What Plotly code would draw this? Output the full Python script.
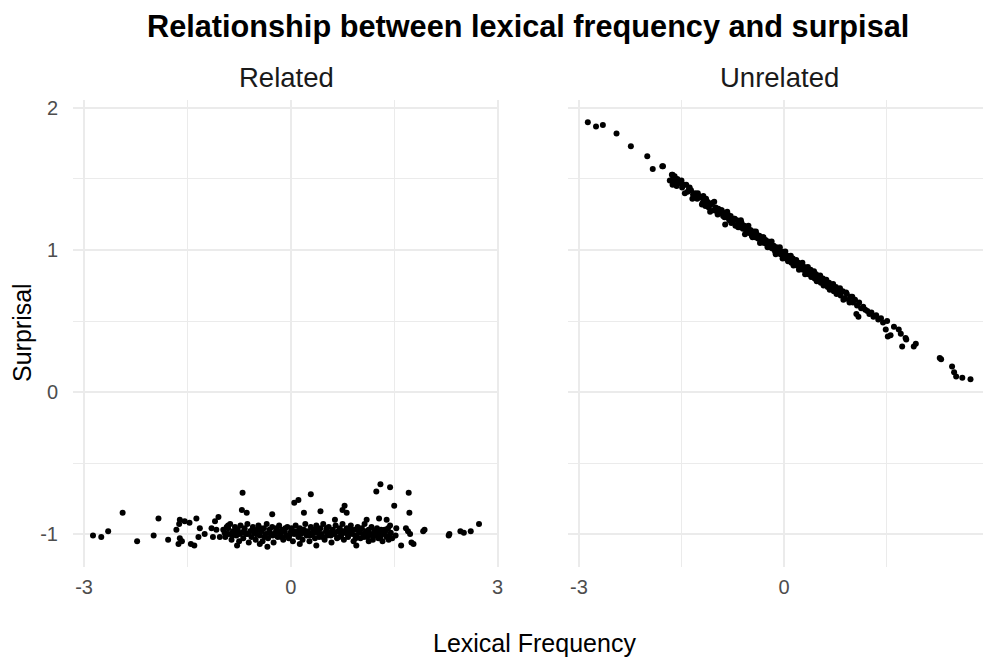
import plotly.graph_objects as go

# ---------------- data ----------------
facet_labels = ["Related", "Unrelated"]
plot_title = "Relationship between lexical frequency and surpisal"
x_title = "Lexical Frequency"
y_title = "Surprisal"
x_ticks = [-3, 0, 3]
y_ticks = [-1, 0, 1, 2]
x_minor = [-1.5, 1.5]
y_minor = [-0.5, 0.5, 1.5]

related_pts = [
    (-2.87, -1.01), (-2.75, -1.02), (-2.65, -0.98), (-2.44, -0.85), (-2.23, -1.05),
    (-1.99, -1.01), (-1.92, -0.89), (-1.78, -1.04), (-1.66, -0.97), (-1.62, -0.93),
    (-1.61, -0.90), (-1.61, -1.03), (-1.63, -1.07), (-1.58, -1.05), (-1.54, -0.91),
    (-1.47, -0.92), (-1.45, -1.07), (-1.40, -1.08), (-1.37, -0.89), (-1.34, -1.02),
    (-1.32, -0.96), (-1.25, -1.00), (-1.15, -0.96), (-1.13, -1.02), (-1.10, -0.91),
    (-1.08, -0.97), (-1.05, -0.88), (-1.03, -1.02), (-0.93, -1.00), (-0.91, -0.94),
    (-0.70, -0.71), (-0.71, -0.83), (-0.64, -0.85), (-0.27, -0.86), (0.05, -0.78),
    (0.11, -0.76), (0.29, -0.72), (0.19, -0.85), (0.43, -0.84), (0.78, -0.80),
    (0.81, -0.85), (0.75, -0.83), (0.64, -0.90), (1.10, -0.90), (-0.78, -1.08),
    (-0.45, -1.07), (-0.34, -1.09), (0.13, -1.07), (0.37, -1.08), (0.95, -1.08),
    (1.13, -1.05),
    (1.24, -0.70), (1.30, -0.65), (1.44, -0.67), (1.71, -0.71), (1.50, -0.80),
    (1.72, -0.85), (1.28, -0.89), (1.39, -0.90), (1.44, -0.94), (1.53, -0.96),
    (1.67, -0.96), (1.70, -0.98), (1.73, -1.00), (1.52, -1.01), (1.60, -1.08),
    (1.75, -1.06), (1.78, -1.07), (1.92, -0.98), (1.94, -0.97), (2.29, -1.01),
    (2.30, -1.00), (2.46, -0.98), (2.51, -0.99), (2.61, -0.98), (2.73, -0.93),
    (-0.98, -0.97), (-0.95, -1.02), (-0.93, -0.95), (-0.90, -1.00), (-0.88, -0.93),
    (-0.86, -1.04), (-0.84, -0.98), (-0.81, -0.95), (-0.79, -1.01), (-0.77, -0.97),
    (-0.75, -1.05), (-0.73, -0.94), (-0.71, -0.99), (-0.69, -1.03), (-0.67, -0.96),
    (-0.65, -1.00), (-0.63, -0.93), (-0.61, -1.06), (-0.59, -0.98), (-0.57, -1.02),
    (-0.55, -0.95), (-0.53, -0.99), (-0.51, -1.04), (-0.49, -0.97), (-0.47, -0.94),
    (-0.45, -1.01), (-0.43, -0.98), (-0.41, -1.05), (-0.39, -0.96), (-0.37, -1.00),
    (-0.35, -0.93), (-0.33, -1.03), (-0.31, -0.97), (-0.29, -1.00), (-0.27, -0.95),
    (-0.25, -1.06), (-0.23, -0.99), (-0.21, -0.96), (-0.19, -1.02), (-0.17, -0.94),
    (-0.15, -1.00), (-0.13, -0.97), (-0.11, -1.04), (-0.09, -0.98), (-0.07, -1.01),
    (-0.05, -0.95), (-0.03, -1.03), (-0.01, -0.99), (0.01, -0.96), (0.03, -1.05),
    (0.05, -1.00), (0.07, -0.94), (0.09, -0.98), (0.11, -1.02), (0.13, -0.96),
    (0.15, -1.00), (0.17, -1.04), (0.19, -0.97), (0.21, -0.93), (0.23, -1.01),
    (0.25, -0.98), (0.27, -1.05), (0.29, -0.95), (0.31, -1.00), (0.33, -0.97),
    (0.35, -1.03), (0.37, -0.94), (0.39, -0.99), (0.41, -1.02), (0.43, -0.96),
    (0.45, -1.00), (0.47, -0.93), (0.49, -1.04), (0.51, -0.98), (0.53, -1.01),
    (0.55, -0.95), (0.57, -0.99), (0.59, -1.06), (0.61, -0.97), (0.63, -1.00),
    (0.65, -0.94), (0.67, -1.03), (0.69, -0.98), (0.71, -0.96), (0.73, -1.01),
    (0.75, -0.93), (0.77, -1.04), (0.79, -0.99), (0.81, -0.96), (0.83, -1.02),
    (0.85, -0.98), (0.87, -0.94), (0.89, -1.00), (0.91, -1.05), (0.93, -0.97),
    (0.95, -1.01), (0.97, -0.95), (0.99, -0.99), (1.01, -1.03), (1.03, -0.96),
    (1.05, -1.00), (1.07, -0.93), (1.09, -0.98), (1.11, -1.02), (1.13, -0.97),
    (1.15, -1.00), (1.17, -0.95), (1.19, -1.04), (1.21, -0.98), (1.23, -1.01),
    (1.25, -0.96), (1.27, -1.03), (1.29, -0.99), (1.31, -0.97), (1.33, -1.05),
    (1.35, -1.00), (1.37, -0.98), (1.39, -1.02), (1.41, -0.96), (1.43, -1.01),
    (1.45, -0.99), (1.47, -1.03),
    (-0.96, -0.99), (-0.91, -0.96), (-0.85, -1.01), (-0.80, -0.99), (-0.74, -1.00),
    (-0.68, -0.98), (-0.62, -1.00), (-0.56, -0.97), (-0.50, -1.00), (-0.44, -0.96),
    (-0.38, -1.02), (-0.32, -0.99), (-0.26, -1.01), (-0.20, -0.98), (-0.14, -1.02),
    (-0.08, -0.96), (-0.02, -1.01), (0.04, -0.98), (0.10, -1.00), (0.16, -0.97),
    (0.22, -0.99), (0.28, -1.01), (0.34, -0.99), (0.40, -0.97), (0.46, -1.02),
    (0.52, -0.96), (0.58, -1.01), (0.64, -0.99), (0.70, -1.02), (0.76, -0.98),
    (0.82, -1.00), (0.88, -0.97), (0.94, -1.03), (1.00, -0.98), (1.06, -1.02),
    (1.12, -0.99), (1.18, -1.01), (1.24, -0.99), (1.30, -1.02), (1.36, -0.97),
    (1.42, -1.04),
]

unrelated_pts = [
    (-2.87, 1.90), (-2.75, 1.87), (-2.65, 1.88), (-2.45, 1.82), (-2.24, 1.73),
    (-2.00, 1.66), (-1.92, 1.57), (-1.78, 1.59), (-1.77, 1.59), (-1.67, 1.49),
    (-1.60, 1.52), (-1.58, 1.46), (-1.51, 1.48), (-1.43, 1.46), (-1.39, 1.43),
    (-1.63, 1.46), (-1.34, 1.36), (-1.18, 1.38), (-0.86, 1.18),
    (-1.64, 1.53), (-1.62, 1.51), (-1.60, 1.49), (-1.56, 1.50), (-1.53, 1.47),
    (-1.49, 1.44), (-1.46, 1.46), (-1.41, 1.41), (-1.36, 1.42), (-1.33, 1.39),
    (-1.30, 1.40), (-1.27, 1.36), (-1.25, 1.38), (-1.22, 1.37), (-1.19, 1.33),
    (-1.17, 1.35), (-1.15, 1.31), (-1.12, 1.34), (-1.10, 1.30), (-1.07, 1.32),
    (-1.05, 1.33), (-1.03, 1.28), (-1.00, 1.30), (-0.98, 1.27), (-0.96, 1.29),
    (-0.94, 1.26), (-0.91, 1.28), (-0.89, 1.24), (-0.86, 1.26), (-0.84, 1.23),
    (-0.82, 1.25), (-0.80, 1.21), (-0.78, 1.24), (-0.75, 1.20), (-0.73, 1.22),
    (-0.71, 1.17), (-0.69, 1.21), (-0.66, 1.18), (-0.64, 1.16), (-0.62, 1.19),
    (-0.60, 1.15), (-0.58, 1.17), (-0.55, 1.13), (-0.53, 1.16), (-0.51, 1.12),
    (-0.49, 1.14), (-0.47, 1.10), (-0.44, 1.13), (-0.42, 1.09), (-0.40, 1.11),
    (-0.38, 1.08), (-0.36, 1.10), (-0.34, 1.06), (-0.31, 1.09), (-0.29, 1.05),
    (-0.27, 1.07), (-0.25, 1.04), (-0.23, 1.06), (-0.21, 1.02), (-0.19, 1.05),
    (-0.17, 1.01), (-0.15, 1.03), (-0.13, 0.99), (-0.11, 1.02), (-0.09, 0.98),
    (-0.07, 1.00), (-0.05, 0.97), (-0.03, 0.99), (-0.01, 0.95), (0.01, 0.98),
    (0.03, 0.94), (0.05, 0.96), (0.07, 0.93), (0.09, 0.95), (0.11, 0.91),
    (0.13, 0.94), (0.15, 0.90), (0.17, 0.92), (0.19, 0.89), (0.21, 0.91),
    (0.23, 0.87), (0.26, 0.90), (0.28, 0.86), (0.30, 0.88), (0.32, 0.85),
    (0.34, 0.87), (0.36, 0.83), (0.39, 0.86), (0.41, 0.82), (0.43, 0.84),
    (0.45, 0.80), (0.47, 0.83), (0.50, 0.79), (0.52, 0.81), (0.54, 0.77),
    (0.57, 0.80), (0.59, 0.76), (0.61, 0.78), (0.64, 0.74), (0.66, 0.77),
    (0.69, 0.73), (0.71, 0.75), (0.73, 0.71), (0.76, 0.74), (0.78, 0.70),
    (0.81, 0.72), (0.83, 0.68), (0.86, 0.71), (0.89, 0.66), (0.92, 0.69),
    (0.95, 0.65), (0.98, 0.67), (1.01, 0.63), (1.04, 0.65), (1.07, 0.61),
    (1.10, 0.63), (1.09, 0.53), (1.06, 0.55), (1.13, 0.59), (1.16, 0.60),
    (1.19, 0.58), (1.22, 0.57), (1.25, 0.55), (1.28, 0.56), (1.31, 0.53),
    (1.35, 0.54), (1.38, 0.51), (1.42, 0.52), (1.45, 0.49),
    (1.49, 0.44), (1.51, 0.50), (1.61, 0.46), (1.68, 0.44), (1.71, 0.41),
    (1.52, 0.39), (1.56, 0.40), (1.78, 0.38), (1.73, 0.32), (1.79, 0.37),
    (1.90, 0.32), (1.93, 0.34), (2.28, 0.24), (2.30, 0.23), (2.46, 0.18),
    (2.49, 0.14), (2.52, 0.11), (2.61, 0.10), (2.73, 0.09),
    (-1.63, 1.53), (-1.57, 1.45), (-1.50, 1.49), (-1.45, 1.40), (-1.38, 1.44),
    (-1.32, 1.37), (-1.26, 1.40), (-1.20, 1.32), (-1.14, 1.36), (-1.08, 1.27),
    (-1.02, 1.34), (-0.97, 1.25), (-0.92, 1.28), (-0.87, 1.23), (-0.83, 1.27),
    (-0.77, 1.19), (-0.72, 1.22), (-0.67, 1.16), (-0.63, 1.21), (-0.57, 1.11),
    (-0.52, 1.17), (-0.46, 1.09), (-0.41, 1.13), (-0.35, 1.05), (-0.30, 1.09),
    (-0.24, 1.02), (-0.18, 1.06), (-0.12, 0.97), (-0.06, 1.02), (-0.02, 0.94),
    (0.02, 0.99), (0.06, 0.92), (0.10, 0.96), (0.14, 0.89), (0.18, 0.93),
    (0.22, 0.86), (0.27, 0.91), (0.31, 0.83), (0.35, 0.88), (0.40, 0.81),
    (0.44, 0.85), (0.48, 0.78), (0.53, 0.82), (0.58, 0.75), (0.62, 0.79),
    (0.67, 0.72), (0.72, 0.76), (0.77, 0.69), (0.82, 0.73), (0.87, 0.65),
    (0.91, 0.70), (0.96, 0.63), (1.00, 0.67),
]

# ---------------- layout geometry (page pixels; page has an 8px body margin) ----------------
OFF = 8
W, H = 991 - OFF, 657 - OFF
L = 73 - OFF
T = 100 - OFF
B = H - (567 - OFF)
R = 0
PW = W - L - R
PH = H - T - B
left_dom = [0, (499 - 73) / PW]
right_dom = [(568 - 73) / PW, 1.0]
x_range_left = [-3.16, 3.02]
x_range_right = [-3.16, 3.03]
y_range = [-1.232, 2.056]

FONT = "Liberation Sans, Arial, Helvetica, sans-serif"
GRID = "#EBEBEB"
TICKC = "#4D4D4D"

fig = go.Figure()
for pts, xa, ya in [(related_pts, "x", "y"), (unrelated_pts, "x2", "y2")]:
    fig.add_trace(go.Scatter(
        x=[p[0] for p in pts], y=[p[1] for p in pts],
        mode="markers", xaxis=xa, yaxis=ya,
        marker=dict(color="black", size=6, line=dict(width=0)),
        showlegend=False, hoverinfo="skip",
    ))

def xaxis(dom, rng):
    return dict(
        domain=dom, range=rng, tickvals=x_ticks, ticktext=[str(v) for v in x_ticks],
        showgrid=True, gridcolor=GRID, gridwidth=2, zeroline=False, showline=False,
        ticks="outside", ticklen=2, tickcolor="rgba(0,0,0,0)",
        tickfont=dict(family=FONT, size=20, color=TICKC),
        ticklabeloverflow="allow",
        minor=dict(tickvals=x_minor, showgrid=True, gridcolor=GRID, gridwidth=1, ticks=""),
        fixedrange=True,
    )

def yaxis(anchor, labels):
    return dict(
        domain=[0, 1], range=y_range, tickvals=y_ticks, ticktext=[str(v) for v in y_ticks],
        showticklabels=labels, anchor=anchor,
        showgrid=True, gridcolor=GRID, gridwidth=2, zeroline=False, showline=False,
        ticks="outside" if labels else "", ticklen=10, tickcolor="rgba(0,0,0,0)",
        tickfont=dict(family=FONT, size=20, color=TICKC),
        minor=dict(tickvals=y_minor, showgrid=True, gridcolor=GRID, gridwidth=1, ticks=""),
        fixedrange=True,
    )

ya2 = yaxis("x2", False)
ya2["matches"] = "y"
fig.update_layout(
    width=W, height=H, margin=dict(l=L, r=R, t=T, b=B, autoexpand=False),
    paper_bgcolor="white", plot_bgcolor="white",
    xaxis=xaxis(left_dom, x_range_left),
    xaxis2=dict(xaxis(right_dom, x_range_right), anchor="y2"),
    yaxis=yaxis("x", True),
    yaxis2=ya2,
    showlegend=False,
)

def py(pix):  # page pixel from top -> paper y
    return 1 + (T - (pix - OFF)) / PH

def px(pix):  # page pixel from left -> paper x
    return ((pix - OFF) - L) / PW

ann = [
    dict(text="<b>" + plot_title + "</b>", x=px(528), y=py(27),
         font=dict(family=FONT, size=30.7, color="black")),
    dict(text=facet_labels[0], x=(left_dom[0] + left_dom[1]) / 2, y=py(77),
         font=dict(family=FONT, size=27.5, color="#1A1A1A")),
    dict(text=facet_labels[1], x=(right_dom[0] + right_dom[1]) / 2, y=py(77),
         font=dict(family=FONT, size=27.5, color="#1A1A1A")),
    dict(text=x_title, x=px(534), y=py(643),
         font=dict(family=FONT, size=25, color="black")),
    dict(text=y_title, x=px(22), y=py(333), textangle=-90,
         font=dict(family=FONT, size=25, color="black")),
]
for a in ann:
    a.update(xref="paper", yref="paper", showarrow=False, xanchor="center", yanchor="middle")
fig.update_layout(annotations=ann)

fig.write_html("out.html", config={"displayModeBar": False})
